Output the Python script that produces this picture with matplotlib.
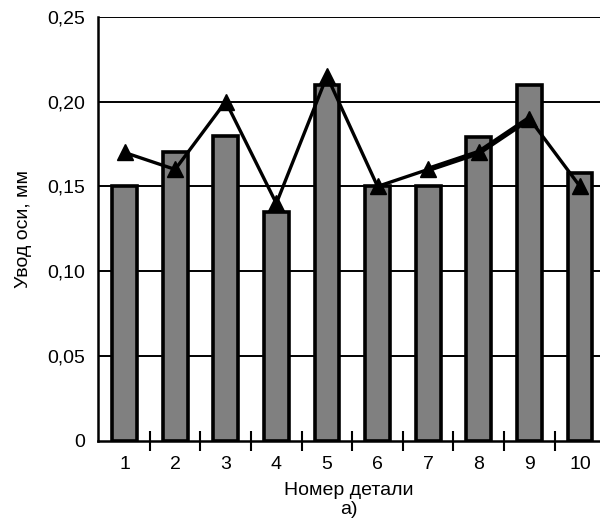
import matplotlib
matplotlib.use('Agg')
import matplotlib.pyplot as plt
from matplotlib.ticker import FixedLocator, FuncFormatter

plt.rcParams['font.family'] = ['Liberation Sans', 'DejaVu Sans']

parts = [1, 2, 3, 4, 5, 6, 7, 8, 9, 10]
bar_vals = [0.150, 0.170, 0.180, 0.135, 0.210, 0.150, 0.150, 0.179, 0.210, 0.158]
line_vals = [0.170, 0.160, 0.200, 0.140, 0.215, 0.150, 0.160, 0.170, 0.190, 0.150]
y_ticks = [0, 0.05, 0.10, 0.15, 0.20, 0.25]

fig = plt.figure(figsize=(6, 5.22), dpi=100)
ax = fig.add_axes([0.1633, 0.1552, 0.8367, 0.8128])

# сетка
for t in y_ticks[1:]:
    ax.axhline(t, color='black', lw=1.4, zorder=1)

ax.bar(parts, bar_vals, width=0.49, color='#808080', edgecolor='black', linewidth=2.6, zorder=2)
ax.plot(parts, line_vals, color='black', lw=2.4, marker='^', markersize=12, zorder=3)
ax.plot(parts[6:9], line_vals[6:9], color='black', lw=4, zorder=3)

ax.set_xlim(0.476, 10.395)
ax.set_ylim(0, 0.25)
ax.set_yticks(y_ticks)
ax.yaxis.set_major_formatter(FuncFormatter(lambda v, p: '0' if v == 0 else f'{v:.2f}'.replace('.', ',')))
ax.tick_params(axis='y', length=0, pad=9, labelsize=14)

ax.set_xticks(parts)
ax.xaxis.set_minor_locator(FixedLocator([p + 0.5 for p in parts[:-1]]))
ax.tick_params(axis='x', which='major', length=0, pad=11, labelsize=14)
ax.tick_params(axis='x', which='minor', direction='inout', length=14, width=1.5)

for s in ['top', 'right']:
    ax.spines[s].set_visible(False)
for s in ['left', 'bottom']:
    ax.spines[s].set_linewidth(1.8)

ax.set_xlabel('Номер детали\nа)', fontsize=14, labelpad=6, linespacing=1.2)
ax.set_ylabel('Увод оси, мм', fontsize=14, labelpad=11)

fig.savefig('out.png', dpi=100)
